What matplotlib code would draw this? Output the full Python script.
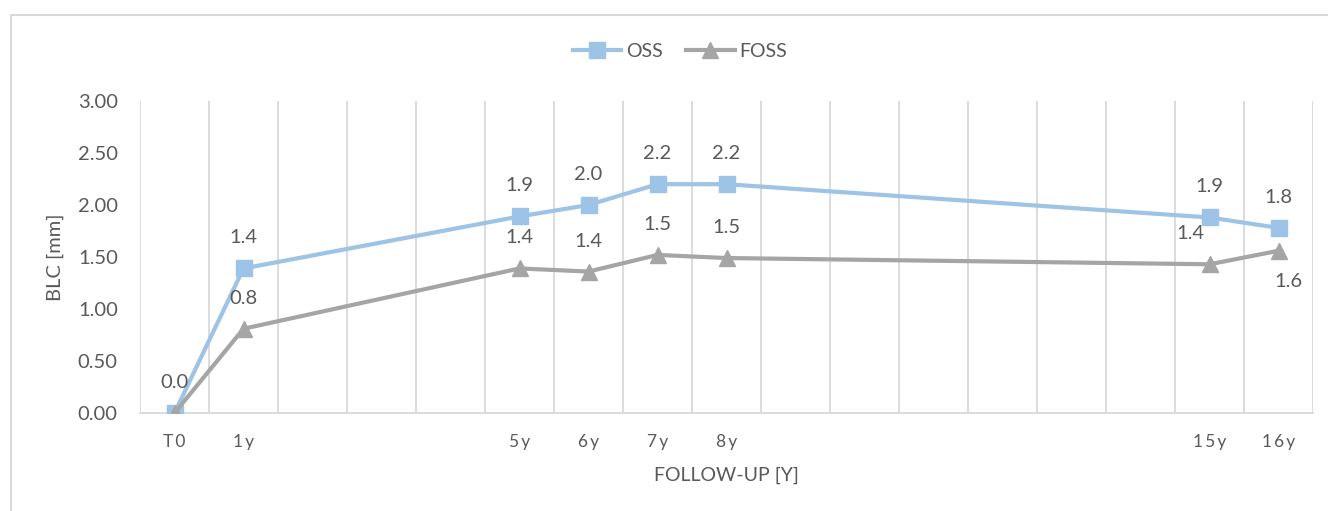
import matplotlib.pyplot as plt
from matplotlib.patches import Rectangle

plt.rcParams['font.family'] = ['Lato', 'DejaVu Sans']

# follow-up points (years after T0) and their axis labels
years = [0, 1, 5, 6, 7, 8, 15, 16]
tick_names = ['T0', '1y', '5y', '6y', '7y', '8y', '15y', '16y']

oss = [0.0, 1.39, 1.89, 2.0, 2.2, 2.2, 1.88, 1.78]
foss = [0.0, 0.81, 1.39, 1.36, 1.52, 1.49, 1.43, 1.56]

txt = '#595959'
blue = '#9DC3E6'
gray = '#A5A5A5'

fig = plt.figure(figsize=(13.28, 5.11), dpi=100)
ax = fig.add_axes([140 / 1328, 1 - 413 / 511, 1173 / 1328, 312 / 511])

# chart area border
fig.patches.append(Rectangle((11 / 1328, -0.1), 1.2, 1 - 15 / 511 + 0.1,
                             transform=fig.transFigure, fill=False,
                             edgecolor='#D9D9D9', lw=1.5, clip_on=False))

ax.plot(years, oss, color=blue, lw=3, marker='s', ms=11, label='OSS', zorder=3)
ax.plot(years, foss, color=gray, lw=3, marker='^', ms=11, label='FOSS', zorder=4)

# data labels, mostly above each point
for x, v in zip(years, oss):
    ax.annotate(f'{v:.1f}', (x, v), xytext=(0, 22), textcoords='offset points',
                ha='center', va='center', fontsize=14.5, color=txt)
for i, (x, v) in enumerate(zip(years, foss)):
    if v == oss[i]:
        continue  # same spot as the OSS label
    dx, dy = 0, 22
    if i == len(years) - 1:
        dx, dy = 7, -22
    elif i == len(years) - 2:
        dx = -14
    ax.annotate(f'{v:.1f}', (x, v), xytext=(dx, dy), textcoords='offset points',
                ha='center', va='center', fontsize=14.5, color=txt)

ax.set_xlim(-0.5, 16.5)
ax.set_ylim(0, 3)
ax.set_yticks([0, 0.5, 1, 1.5, 2, 2.5, 3])
ax.set_yticklabels([f'{t:.2f}' for t in ax.get_yticks()])
ax.set_xticks(years)
ax.set_xticklabels(['\u2009'.join(n) for n in tick_names])

# vertical gridlines on the category boundaries
for b in range(-1, 17):
    ax.axvline(b + 0.5, color='#D9D9D9', lw=1.3, zorder=1)

for s in ['top', 'right', 'left']:
    ax.spines[s].set_visible(False)
ax.spines['bottom'].set_color('#D9D9D9')
ax.spines['bottom'].set_linewidth(1.3)
ax.tick_params(length=0, colors=txt)
ax.tick_params(axis='y', labelsize=14.5, pad=16)
ax.tick_params(axis='x', labelsize=12.5, pad=15)

ax.set_ylabel('BLC [mm]', fontsize=14.5, color=txt, labelpad=10)
ax.set_xlabel('FOLLOW-UP [Y]', fontsize=14, color=txt, labelpad=12)

fig.legend(loc='center', bbox_to_anchor=(680 / 1328, 1 - 51 / 511), ncol=2,
           frameon=False, fontsize=14, labelcolor=txt, handlelength=2.5,
           columnspacing=1.2, handletextpad=0.25)

fig.savefig('out.png', dpi=100)
